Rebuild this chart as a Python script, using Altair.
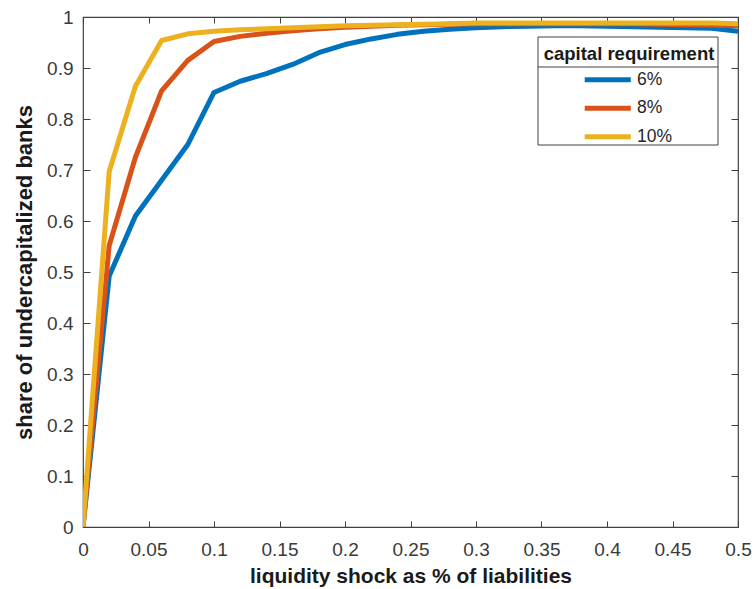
import altair as alt
import pandas as pd

shock = [0.00, 0.02, 0.04, 0.06, 0.08, 0.10, 0.12, 0.14, 0.16, 0.18, 0.20, 0.22, 0.24,
         0.26, 0.28, 0.30, 0.32, 0.34, 0.36, 0.38, 0.40, 0.42, 0.44, 0.46, 0.48, 0.50]
req6 = [0.000, 0.492, 0.610, 0.680, 0.750, 0.852, 0.874, 0.889, 0.907, 0.930, 0.946, 0.957, 0.966,
        0.972, 0.976, 0.979, 0.981, 0.982, 0.983, 0.983, 0.982, 0.981, 0.980, 0.979, 0.978, 0.972]
req8 = [0.000, 0.552, 0.725, 0.855, 0.915, 0.952, 0.962, 0.968, 0.973, 0.977, 0.980, 0.982, 0.984,
        0.985, 0.986, 0.987, 0.987, 0.987, 0.987, 0.987, 0.987, 0.987, 0.986, 0.985, 0.984, 0.983]
req10 = [0.000, 0.697, 0.864, 0.954, 0.967, 0.972, 0.975, 0.977, 0.979, 0.981, 0.983, 0.984, 0.985,
         0.986, 0.987, 0.988, 0.988, 0.988, 0.988, 0.988, 0.988, 0.988, 0.988, 0.988, 0.988, 0.987]
series = ["6%", "8%", "10%"]
colors = ["#0072BD", "#D95319", "#EDB120"]
x_ticks = [0, 0.05, 0.1, 0.15, 0.2, 0.25, 0.3, 0.35, 0.4, 0.45, 0.5]
y_ticks = [0, 0.1, 0.2, 0.3, 0.4, 0.5, 0.6, 0.7, 0.8, 0.9, 1]

rows = []
for name, vals in zip(series, [req6, req8, req10]):
    for xv, yv in zip(shock, vals):
        rows.append({"shock": xv, "share": yv, "req": name})
df = pd.DataFrame(rows)

W, H = 655, 510
FONT = "Liberation Sans"
AXC = "#404040"

xs = alt.Scale(domain=[0, 0.5], nice=False, zero=False)
ys = alt.Scale(domain=[0, 1], nice=False, zero=False)

common_axis = dict(tickColor=AXC, tickWidth=1, tickOpacity=1, domain=False, grid=False)

lines = alt.Chart(df).mark_line(strokeWidth=5, strokeJoin="round", clip=True).encode(
    x=alt.X("shock:Q", scale=xs, axis=alt.Axis(
        orient="bottom", values=x_ticks, format="~g",
        title="liquidity shock as % of liabilities",
        ticks=True, tickSize=6, offset=-6, labelPadding=13,
        labelFontSize=19, labelColor="#3a3a3a", labelFont=FONT,
        titleFont=FONT, titleFontSize=21, titleFontWeight="bold",
        titleColor="#1a1a1a", titlePadding=6,
        labelFlush=False, labelOverlap=False, **common_axis)),
    y=alt.Y("share:Q", scale=ys, axis=alt.Axis(
        orient="left", values=y_ticks, format="~g",
        title="share of undercapitalized banks",
        ticks=True, tickSize=7, offset=-7, labelPadding=10,
        labelFontSize=19, labelColor="#3a3a3a", labelFont=FONT,
        titleFont=FONT, titleFontSize=22, titleFontWeight="bold",
        titleColor="#1a1a1a", titlePadding=10,
        labelFlush=False, labelOverlap=False, **common_axis)),
    color=alt.Color("req:N", sort=series,
                    scale=alt.Scale(domain=series, range=colors),
                    legend=alt.Legend(
                        title="capital requirement", orient="none",
                        legendX=453, legendY=20, direction="vertical",
                        symbolType="M-5,0H5", symbolSize=85, symbolStrokeWidth=5,
                        symbolOffset=14, labelOffset=20.5,
                        labelFont=FONT, labelFontSize=17.5, labelColor="#262626",
                        titleFont=FONT, titleFontSize=18.5, titleFontWeight="bold",
                        titleColor="#1a1a1a", titlePadding=7.5, titleAnchor="middle",
                        padding=8, rowPadding=7.5)),
)

# mirrored tick marks on the top and right edges (invisible marks, axes only)
mirror = alt.Chart(df).mark_point(opacity=0).encode(
    x=alt.X("shock:Q", scale=xs, axis=alt.Axis(
        orient="top", values=x_ticks, labels=False, title=None,
        ticks=True, tickSize=6, offset=-6, **common_axis)),
    y=alt.Y("share:Q", scale=ys, axis=alt.Axis(
        orient="right", values=y_ticks, labels=False, title=None,
        ticks=True, tickSize=7, offset=-7, **common_axis)),
)

# legend frame and title separator (decoration)
frame = alt.Chart(pd.DataFrame({"a": [0]})).mark_rect(
    fill="white", stroke=AXC, strokeWidth=1).encode(
    x=alt.value(455), x2=alt.value(635), y=alt.value(20), y2=alt.value(128))
sep = alt.Chart(pd.DataFrame({"a": [0]})).mark_rule(color=AXC, strokeWidth=1).encode(
    x=alt.value(455), x2=alt.value(635), y=alt.value(50))

chart = alt.layer(lines, mirror, frame, sep).resolve_axis(
    x="independent", y="independent"
).properties(
    width=W, height=H,
    autosize=alt.AutoSizeParams(type="none"),
    padding={"left": 83, "top": 17, "right": 16, "bottom": 62},
    background="white",
).configure_view(stroke=AXC, strokeWidth=1.2)

chart.save("out.html", embed_options={"renderer": "svg", "actions": False})
